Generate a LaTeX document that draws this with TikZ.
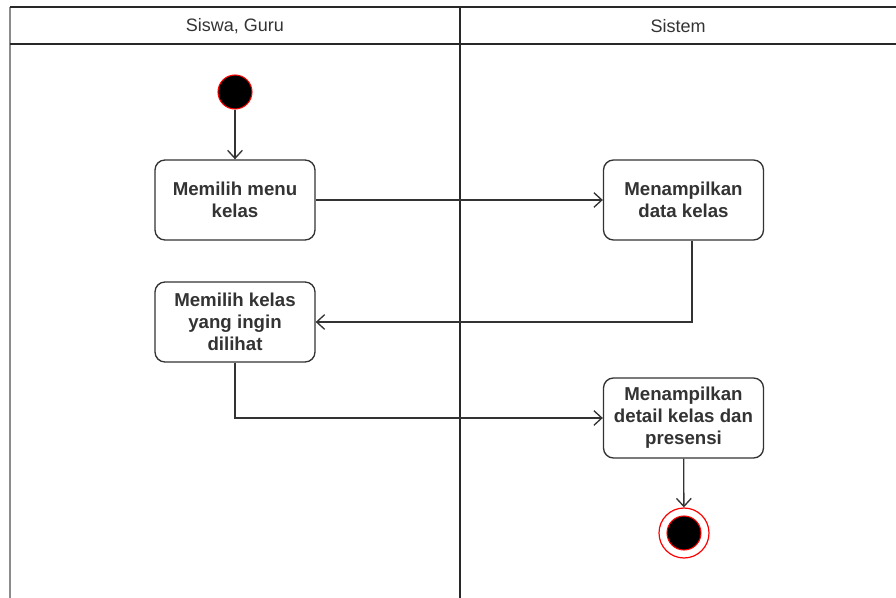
\documentclass[tikz,border=0pt]{standalone}
\usepackage{fontspec}
\setmainfont{Liberation Sans}
\usetikzlibrary{arrows.meta,positioning}
\definecolor{lineclr}{RGB}{51,51,51}
\definecolor{laneclr}{RGB}{40,40,40}
\definecolor{edgegrey}{RGB}{140,140,140}
\definecolor{dotred}{RGB}{255,0,0}

\begin{document}
\begin{tikzpicture}[x=0.75pt, y=-0.75pt,
  act/.style={draw=lineclr, line width=1pt, rectangle, rounded corners=7.5pt, minimum width=120pt, minimum height=60pt, align=center, font=\fontsize{14}{16.5}\selectfont\bfseries, text=lineclr, fill=white},
  lanetitle/.style={font=\fontsize{13.5}{16}\selectfont, text=lineclr},
  arr/.style={-{Straight Barb[length=6pt,width=11pt]}, line width=1pt, draw=lineclr},
  startdot/.style={circle, fill=black, draw=dotred, line width=0.8pt, minimum size=25.5pt, inner sep=0pt},
  enddot/.style={circle, fill=white, draw=dotred, line width=0.9pt, minimum size=37.5pt, inner sep=0pt}
]
\useasboundingbox (0,0) rectangle (896,598);

% swimlanes
\draw[edgegrey, line width=2pt] (10,7) -- (10,598);
\draw[laneclr, line width=1.5pt] (10,7) -- (896,7);
\draw[laneclr, line width=1.5pt] (10,44) -- (896,44);
\draw[laneclr, line width=1.5pt] (460,7) -- (460,598);
\node[lanetitle] (laneuser) at (235,26) {Siswa, Guru};
\node[lanetitle] (lanesys) at (678,26) {Sistem};

% activities
\node[startdot] (start) at (235,92) {};
\node[act] (menu) at (235,200) {Memilih menu\\kelas};
\node[act] (show) at (683.5,200) {Menampilkan\\data kelas};
\node[act] (pick) at (235,322) {Memilih kelas\\yang ingin\\dilihat};
\node[act] (detail) at (683.5,418) {Menampilkan\\detail kelas dan\\presensi};
\node[enddot] (stop) at (684,533) {};
\node[startdot] (stopin) at (684,533) {};

\draw[arr] (start) -- (menu);
\draw[arr] (menu) -- (show);
\draw[arr] ([xshift=6.4pt]show.south) |- (pick.east);
\draw[arr] (pick.south) |- (detail.west);
\draw[arr] (detail) -- (stop);
\end{tikzpicture}
\end{document}
